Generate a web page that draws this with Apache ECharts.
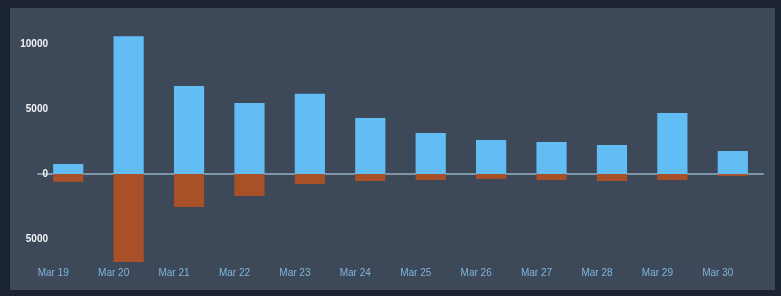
<!DOCTYPE html>
<html>
<head>
<meta charset="utf-8">
<script src="https://cdn.jsdelivr.net/npm/echarts@6/dist/echarts.min.js"></script>
<style>
    html, body {
        margin: 0;
        padding: 0;
        width: 781px;
        height: 296px;
        background: #1b2332;
        overflow: hidden;
    }
    .panel {
        position: absolute;
        left: 10px;
        top: 8px;
        width: 765px;
        height: 282px;
        background: #3d4858;
    }
    #chart {
        width: 100%;
        height: 100%;
    }
</style>
</head>
<body>
<div class="panel">
    <div id="chart"></div>
</div>
<script>
const categories = ['Mar 19', 'Mar 20', 'Mar 21', 'Mar 22', 'Mar 23', 'Mar 24', 'Mar 25', 'Mar 26', 'Mar 27', 'Mar 28', 'Mar 29', 'Mar 30'];
const upValues = [770, 10600, 6770, 5460, 6170, 4310, 3150, 2610, 2460, 2230, 4690, 1770];
const downValues = [-600, -6770, -2540, -1690, -770, -540, -460, -380, -460, -540, -460, -150];

let myChart = echarts.init(document.getElementById('chart'));

let option = {
    backgroundColor: 'transparent',
    animation: false,
    grid: {
        left: 28,
        right: 12,
        top: 23,
        bottom: 25,
        containLabel: false
    },
    xAxis: {
        type: 'category',
        data: categories,
        axisLine: {
            onZero: true,
            lineStyle: { color: '#8094a8', width: 2 }
        },
        axisTick: { show: false },
        axisLabel: {
            color: '#7fb6de',
            fontSize: 10,
            fontFamily: 'Liberation Sans, Arial, sans-serif',
            margin: 3,
            padding: [0, 30, 0, 0]
        },
        splitLine: { show: false }
    },
    yAxis: {
        type: 'value',
        min: -7000,
        max: 11000,
        interval: 1000,
        axisLine: { show: false },
        axisTick: { show: false },
        splitLine: { show: false },
        axisLabel: {
            color: '#f2f4f7',
            fontSize: 10,
            fontWeight: 'bold',
            fontFamily: 'Liberation Sans, Arial, sans-serif',
            margin: -10,
            formatter: v => (v % 5000 === 0 ? String(Math.abs(v)) : '')
        }
    },
    series: [
        {
            type: 'bar',
            stack: 'total',
            barWidth: '50%',
            data: upValues,
            itemStyle: { color: '#62bdf5' }
        },
        {
            type: 'bar',
            stack: 'total',
            barWidth: '50%',
            data: downValues,
            itemStyle: { color: '#a85028' }
        }
    ]
};

option && myChart.setOption(option);
</script>
</body>
</html>
